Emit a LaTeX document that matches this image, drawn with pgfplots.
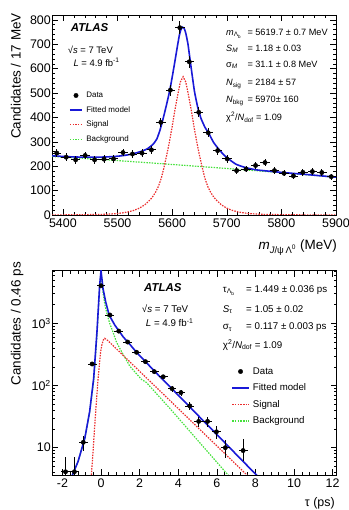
\documentclass[border=0pt]{standalone}
\usepackage{fontspec}
\setmainfont{Liberation Sans}
\usepackage{pgfplots}
\pgfplotsset{compat=1.18}

\definecolor{fitblue}{RGB}{25,25,215}
\definecolor{sigred}{RGB}{235,45,45}
\definecolor{bkggreen}{RGB}{70,225,60}

\newcommand{\fs}[1]{\fontsize{#1}{#1}\selectfont}

\pgfplotsset{
  rootaxis/.style={
    scale only axis, anchor=south west,
    tick align=inside,
    major tick length=6bp, minor tick length=3bp,
    every tick/.style={black, line width=0.5bp},
    axis line style={line width=0.6bp},
    tick label style={font=\fs{12.5}},
    /pgf/number format/assume math mode=true,
    /pgf/number format/1000 sep={},
    yticklabel style={inner xsep=1bp},
    legend cell align=left,
  },
  fit/.style={fitblue, line width=1.6bp},
  sig/.style={sigred, line width=1.2bp, dash pattern=on 1.5bp off 1.2bp},
  bkg/.style={bkggreen, line width=1.2bp, dash pattern=on 1.5bp off 1.2bp},
  data/.style={black, mark=*, mark size=2.2bp, only marks,
    error bars/x dir=both, error bars/x explicit,
    error bars/y dir=both, error bars/y explicit,
    error bars/error mark=none,
    error bars/error bar style={line width=0.8bp, black}},
  lineimg/.style={legend image code/.code={\draw[##1] (0bp,0bp) -- (#1,0bp); \path (#1+2.8bp,0bp);}},
  dotimg/.style={legend image code/.code={\fill[black] (#1/2,0bp) circle (2.2bp); \path (0bp,0bp) (#1+2.8bp,0bp);}},
}

\begin{document}
\begin{tikzpicture}[x=1bp, y=1bp]
\useasboundingbox (0,0) rectangle (348,510);

% ---------------- mass spectrum ----------------
\begin{axis}[rootaxis, at={(52bp,295bp)}, width=284bp, height=200bp,
  xmin=5380, xmax=5900, ymin=0, ymax=820,
  xtick={5400,5500,...,5900}, ytick={0,100,...,800},
  minor x tick num=4, minor y tick num=4,
  legend style={at={(rel axis cs:0.0592,0.62)}, anchor=north west, draw=none, fill=none,
    font=\fs{8}, inner sep=0pt, row sep=6bp,
    nodes={inner sep=0.5bp, text height=6bp, text depth=1.6bp}},
]
\addlegendimage{dotimg=12.4bp}\addlegendentry{Data}
\addlegendimage{draw=fitblue, line width=1.6bp, lineimg=12.4bp}\addlegendentry{Fitted model}
\addlegendimage{draw=sigred, line width=1.2bp, dash pattern=on 1.5bp off 1.2bp, lineimg=12.4bp}\addlegendentry{Signal}
\addlegendimage{draw=bkggreen, line width=1.2bp, dash pattern=on 1.5bp off 1.2bp, lineimg=12.4bp}\addlegendentry{Background}

\addplot[bkg, smooth, forget plot] coordinates {
(5380,240) (5500,223) (5650,199) (5780,177) (5900,155)};

\addplot[sig, forget plot] coordinates {
(5380,0.3) (5420,0.8) (5460,2) (5480,3) (5500,6) (5510,9) (5520,13)
(5530,19) (5540,28) (5550,42) (5560,63) (5565,77) (5570,95) (5575,118)
(5580,150) (5585,195) (5590,245) (5595,300) (5600,362) (5605,430)
(5610,490) (5615,545) (5620,567) (5625,545) (5630,490) (5635,430)
(5640,362) (5645,300) (5650,245) (5655,195) (5660,150) (5665,118)
(5670,95) (5675,77) (5680,63) (5690,42) (5700,28) (5710,19) (5720,13)
(5730,9) (5740,6) (5760,3) (5780,2) (5820,0.8) (5860,0.3) (5900,0.1)};

\addplot[fit, smooth, tension=0.3, forget plot] coordinates {
(5380,243) (5400,240) (5420,238) (5440,237) (5460,237) (5480,238)
(5500,241) (5515,245) (5530,252) (5545,262) (5555,272) (5565,290)
(5572,312) (5578,350) (5584,400) (5590,455) (5596,515) (5602,590)
(5608,670) (5613,735) (5616,760) (5619,770) (5622,765) (5625,745)
(5629,700) (5635,600) (5641,505) (5647,440) (5653,395) (5660,360)
(5667,335) (5676,297) (5686,268) (5694,248) (5702,232) (5717,208)
(5735,194) (5754,185) (5780,179) (5803,174) (5846,166) (5875,160)
(5900,155)};

\addplot[data, forget plot] coordinates {
(5388.7,254) +- (8.67,15.9)
(5406.0,237) +- (8.67,15.4)
(5423.3,226) +- (8.67,15.0)
(5440.7,244) +- (8.67,15.6)
(5458.0,226) +- (8.67,15.0)
(5475.3,229) +- (8.67,15.1)
(5492.7,230) +- (8.67,15.2)
(5510.0,256) +- (8.67,16.0)
(5527.3,250) +- (8.67,15.8)
(5544.7,254) +- (8.67,15.9)
(5562.0,267) +- (8.67,16.3)
(5579.3,380) +- (8.67,19.5)
(5596.7,512) +- (8.67,22.6)
(5614.0,768) +- (8.67,27.7)
(5631.3,628) +- (8.67,25.1)
(5648.7,421) +- (8.67,20.5)
(5666.0,337) +- (8.67,18.4)
(5683.3,264) +- (8.67,16.2)
(5700.7,230) +- (8.67,15.2)
(5718.0,182) +- (8.67,13.5)
(5735.3,188) +- (8.67,13.7)
(5752.7,203) +- (8.67,14.2)
(5770.0,215) +- (8.67,14.7)
(5787.3,182) +- (8.67,13.5)
(5804.7,171) +- (8.67,13.1)
(5822.0,160) +- (8.67,12.6)
(5839.3,175) +- (8.67,13.2)
(5856.7,178) +- (8.67,13.3)
(5874.0,174) +- (8.67,13.2)
(5891.3,157) +- (8.67,12.5)};
\end{axis}

% ---------------- proper decay time ----------------
\begin{axis}[rootaxis, at={(52bp,35bp)}, width=284.5bp, height=204.3bp,
  xmin=-2.54, xmax=12.2, ymode=log, ymin=3.64, ymax=7020,
  xtick={-2,0,...,12}, minor x tick num=4,
  ytick={10,100,1000}, yticklabels={10,10\textsuperscript{2},10\textsuperscript{3}},
  minor ytick={4,5,6,7,8,9,20,30,40,50,60,70,80,90,200,300,400,500,600,700,800,900,2000,3000,4000,5000,6000,7000},
  legend style={at={(rel axis cs:0.630,0.532)}, anchor=north west, draw=none, fill=none,
    font=\fs{9.7}, inner sep=0pt, row sep=6.5bp,
    nodes={inner sep=0.5bp, text height=7bp, text depth=2bp}},
]
\addlegendimage{dotimg=16.6bp}\addlegendentry{Data}
\addlegendimage{draw=fitblue, line width=1.6bp, lineimg=16.6bp}\addlegendentry{Fitted model}
\addlegendimage{draw=sigred, line width=1.2bp, dash pattern=on 1.5bp off 1.2bp, lineimg=16.6bp}\addlegendentry{Signal}
\addlegendimage{draw=bkggreen, line width=1.2bp, dash pattern=on 1.5bp off 1.2bp, lineimg=16.6bp}\addlegendentry{Background}

\addplot[bkg, forget plot] coordinates {
(-1.6,2.8) (-1.48,3.64) (-1.19,6) (-0.84,14.2) (-0.59,37) (-0.38,117)
(-0.21,650) (-0.07,3840) (0.0,6600) (0.1,3150) (0.2,2000) (0.3,1450)
(0.45,1000) (0.62,720) (0.8,500) (1.0,380) (1.49,205) (2.1,125)
(2.35,112) (3.56,43) (6.58,3.64) (6.8,3.07)};

\addplot[sig, forget plot] coordinates {
(-0.55,3.0) (-0.50,3.64) (-0.42,8) (-0.33,21.8) (-0.24,55) (-0.15,131)
(-0.08,230) (-0.02,349) (0.05,460) (0.12,540) (0.19,574) (0.3,545)
(0.45,494) (1,338) (2,169) (3,85) (4,42.6) (5,21.3) (6,10.7) (7,5.36)
(7.6,3.54) (7.8,3.08)};

\addplot[fit, forget plot] coordinates {
(-1.6,2.8) (-1.48,3.64) (-1.19,6) (-0.84,14.2) (-0.59,38) (-0.38,131)
(-0.21,733) (-0.07,4130) (0.0,7000) (0.1,3650) (0.24,2220) (0.42,1360)
(0.71,940) (1.14,610) (1.49,460) (1.84,342) (2.3,242) (2.76,172)
(3.22,123) (4,70) (5,33.7) (6,16.3) (7,7.83) (8,3.78) (8.3,3.03)};

\addplot[data, forget plot] coordinates {
(-1.84,4.1) += (0.23,3.1) -= (0.23,2.0)
(-1.38,4.1) += (0.23,3.1) -= (0.23,2.0)
(-0.92,12.2) +- (0.23,3.5)
(-0.46,222) +- (0.23,14.9)
(0.00,4020) +- (0.23,63)
(0.46,1360) +- (0.23,37)
(0.92,750) +- (0.23,27)
(1.38,500) +- (0.23,22)
(1.84,342) +- (0.23,18.5)
(2.30,242) +- (0.23,15.6)
(2.76,167) +- (0.23,12.9)
(3.22,138) +- (0.23,11.7)
(3.68,89) +- (0.23,9.4)
(4.14,77) +- (0.23,8.8)
(4.60,47) +- (0.23,6.9)
(5.06,26.5) +- (0.23,5.1)
(5.52,26.5) +- (0.23,5.1)
(5.98,18) +- (0.23,4.2)
(6.44,10) +- (0.23,3.2)
(7.36,9) += (0.23,4.8) -= (0.23,3.0)};
\end{axis}

% axis titles
\node[rotate=90, anchor=base east, inner sep=0, font=\fs{13.5}] at (20.5,497) {Candidates / 17 MeV};
\node[rotate=90, anchor=base east, inner sep=0, font=\fs{13.5}] at (20.5,248) {Candidates / 0.46 ps};
\node[anchor=base east, inner sep=0, font=\fs{13.5}] at (337,260)
  {\textit{m}\textsubscript{\textit{J}/ψ\,Λ\textsuperscript{0}} (MeV)};
\node[anchor=base east, inner sep=0, font=\fs{12.5}] at (335,3) {τ (ps)};

% upper panel text
\node[anchor=base west, inner sep=0, font=\fs{11.5}\bfseries\itshape] at (70.7,478.1) {ATLAS};
\node[anchor=base west, inner sep=0, font=\fs{9.5}] at (67.7,456.6) {√\textit{s} = 7 TeV};
\node[anchor=base west, inner sep=0, font=\fs{9.5}] at (73.3,443.9) {\textit{L} = 4.9 fb\textsuperscript{-1}};
\begin{scope}[every node/.style={anchor=base west, inner sep=0, font=\fs{9.2}}]
\node at (226,474.5) {\textit{m}\textsubscript{Λ\textsubscript{b}}};
\node at (247.3,474.5) {= 5619.7 ± 0.7 MeV};
\node at (226,458.5) {\textit{S\textsubscript{M}}};
\node at (247.3,458.5) {= 1.18 ± 0.03};
\node at (226,442.8) {σ\textsubscript{\textit{M}}};
\node at (247.3,442.8) {= 31.1 ± 0.8 MeV};
\node at (226,424.1) {\textit{N}\textsubscript{sig}};
\node at (247.3,424.1) {= 2184 ± 57};
\node at (226,407.5) {\textit{N}\textsubscript{bkg}};
\node at (247.3,407.5) {= 5970± 160};
\node at (226,389.5) {χ\textsuperscript{2}/\textit{N}\textsubscript{dof} = 1.09};
\end{scope}

% lower panel text
\node[anchor=base west, inner sep=0, font=\fs{11.5}\bfseries\itshape] at (144,218.5) {ATLAS};
\node[anchor=base west, inner sep=0, font=\fs{9.8}] at (141.7,197.3) {√\textit{s} = 7 TeV};
\node[anchor=base west, inner sep=0, font=\fs{9.8}] at (145.7,183.3) {\textit{L} = 4.9 fb\textsuperscript{-1}};
\begin{scope}[every node/.style={anchor=base west, inner sep=0, font=\fs{9.8}}]
\node at (222.7,217.5) {τ\textsubscript{Λ\textsubscript{b}}};
\node at (246,217.5) {= 1.449 ± 0.036 ps};
\node at (222.7,197.5) {\textit{S}\textsubscript{τ}};
\node at (246,197.5) {= 1.05 ± 0.02};
\node at (222.7,180.1) {σ\textsubscript{τ}};
\node at (246,180.1) {= 0.117 ± 0.003 ps};
\node at (222.7,161.8) {χ\textsuperscript{2}/\textit{N}\textsubscript{dof} = 1.09};
\end{scope}
\end{tikzpicture}
\end{document}
